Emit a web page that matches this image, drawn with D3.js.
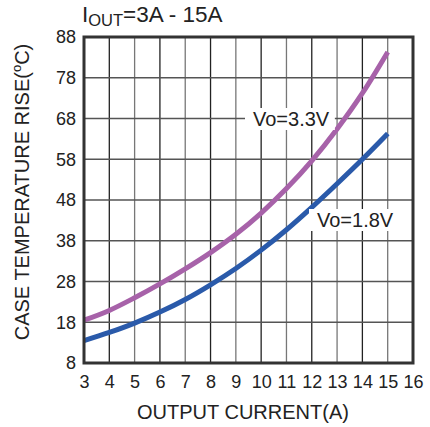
<!DOCTYPE html>
<html>
<head>
<meta charset="utf-8">
<script src="https://cdn.jsdelivr.net/npm/d3@7"></script>
<style>
  body { margin: 0; background: #fff; }
  text { font-family: "Liberation Sans", Arial, sans-serif; fill: #222; }
</style>
</head>
<body>
<main></main>
<script>
// DATA
const currents = [3, 4, 5, 6, 7, 8, 9, 10, 11, 12, 13, 14, 15];
const rise33 = [18.5, 20.9, 24.0, 27.4, 31.1, 35.1, 39.6, 44.8, 50.8, 57.6, 65.4, 74.2, 84.3];
const rise18 = [13.5, 15.5, 17.8, 20.5, 23.6, 27.2, 31.2, 35.7, 40.7, 46.2, 52.0, 58.0, 64.3];
const xTicks = [3, 4, 5, 6, 7, 8, 9, 10, 11, 12, 13, 14, 15, 16];
const yTicks = [8, 18, 28, 38, 48, 58, 68, 78, 88];

// dimension
const w = 430, h = 427;
const pLeft = 84, pRight = 413, pTop = 37, pBottom = 363;

// scales
const xScale = d3.scaleLinear().domain([3, 16]).range([pLeft, pRight]);
const yScale = d3.scaleLinear().domain([8, 88]).range([pBottom, pTop]);

const svg = d3.select("main").append("svg").attr("width", w).attr("height", h);

// grid
svg.append("g").selectAll("line").data(xTicks.slice(1, -1)).enter().append("line")
  .attr("x1", d => xScale(d)).attr("x2", d => xScale(d))
  .attr("y1", pTop).attr("y2", pBottom)
  .attr("stroke", (d, i) => i % 2 ? "#777" : "#222").attr("stroke-width", 1.3);
svg.append("g").selectAll("line").data(yTicks.slice(1, -1)).enter().append("line")
  .attr("y1", d => yScale(d)).attr("y2", d => yScale(d))
  .attr("x1", pLeft).attr("x2", pRight)
  .attr("stroke", "#555").attr("stroke-width", 1.3);

// axes (labels only)
const xAxis = d3.axisBottom(xScale).tickValues(xTicks).tickSize(0).tickPadding(12);
const gx = svg.append("g").attr("transform", "translate(0," + pBottom + ")").call(xAxis);
const yAxis = d3.axisLeft(yScale).tickValues(yTicks).tickSize(0).tickPadding(8);
const gy = svg.append("g").attr("transform", "translate(" + pLeft + ",0)").call(yAxis);
[gx, gy].forEach(g => {
  g.select(".domain").remove();
  g.selectAll("text").attr("font-size", 18).attr("font-family", "Liberation Sans, Arial, sans-serif").attr("fill", "#222");
});

// curves
const line = d3.line().x(d => xScale(d[0])).y(d => yScale(d[1])).curve(d3.curveMonotoneX);
svg.append("path").datum(currents.map((c, i) => [c, rise33[i]]))
  .attr("d", line).attr("fill", "none").attr("stroke", "#a762a9").attr("stroke-width", 5);
svg.append("path").datum(currents.map((c, i) => [c, rise18[i]]))
  .attr("d", line).attr("fill", "none").attr("stroke", "#2a5aaa").attr("stroke-width", 5);

// frame
svg.append("rect").attr("x", pLeft).attr("y", pTop).attr("width", pRight - pLeft).attr("height", pBottom - pTop)
  .attr("fill", "none").attr("stroke", "#333").attr("stroke-width", 3);

// curve labels
function label(x, y, txt) {
  const bg = svg.append("rect").attr("fill", "#fff");
  const t = svg.append("text").attr("x", x).attr("y", y).attr("font-size", 20).text(txt);
  const b = t.node().getBBox();
  bg.attr("x", b.x - 8).attr("y", b.y).attr("width", b.width + 13).attr("height", b.height);
}
label(253, 126, "Vo=3.3V");
label(317, 227, "Vo=1.8V");

// title
const title = svg.append("text").attr("x", 82).attr("y", 22).attr("font-size", 22.5);
title.append("tspan").text("I");
title.append("tspan").attr("font-size", 16.5).attr("dy", 4).text("OUT");
title.append("tspan").attr("dy", -4).text("=3A - 15A");

// axis titles
svg.append("text").attr("x", 243).attr("y", 419).attr("text-anchor", "middle")
  .attr("font-size", 20).text("OUTPUT CURRENT(A)");
const yt = svg.append("text").attr("transform", "translate(28.5,192) rotate(-90)")
  .attr("text-anchor", "middle").attr("font-size", 20);
yt.append("tspan").text("CASE TEMPERATURE RISE(");
yt.append("tspan").attr("font-size", 13).attr("dy", -8).text("o");
yt.append("tspan").attr("dy", 8).text("C)");
</script>
</body>
</html>
